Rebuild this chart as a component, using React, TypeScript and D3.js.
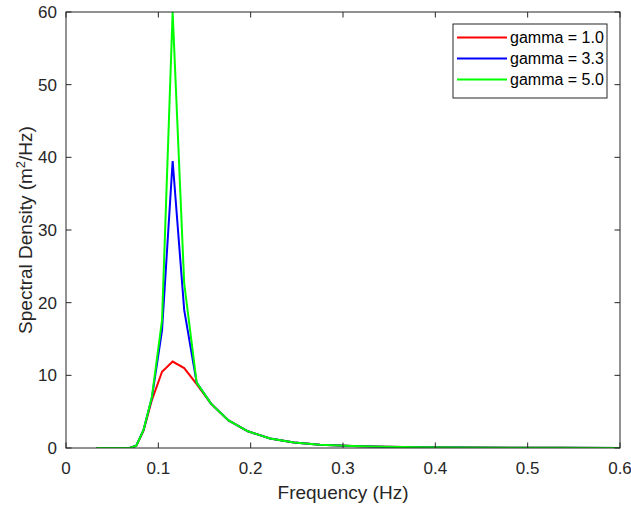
import React from "react";
import * as d3 from "d3";

const freq = [0.033, 0.037, 0.041, 0.046, 0.051, 0.056, 0.062, 0.069, 0.076, 0.084, 0.093, 0.104, 0.1155, 0.128, 0.1415, 0.157, 0.176, 0.197, 0.221, 0.247, 0.275, 0.31, 0.345, 0.385, 0.43, 0.48, 0.535, 0.6];
const gamma10 = [0, 0, 0, 0, 0, 0, 0, 0, 0.3, 2.4, 6.6, 10.5, 11.9, 11.0, 8.8, 6.1, 3.8, 2.3, 1.3, 0.75, 0.45, 0.27, 0.16, 0.1, 0.06, 0.04, 0.02, 0.01];
const gamma33 = [0, 0, 0, 0, 0, 0, 0, 0, 0.3, 2.5, 6.9, 16.2, 39.5, 19.0, 9.0, 6.1, 3.8, 2.3, 1.3, 0.75, 0.45, 0.27, 0.16, 0.1, 0.06, 0.04, 0.02, 0.01];
const gamma50 = [0, 0, 0, 0, 0, 0, 0, 0, 0.3, 2.5, 7.0, 17.6, 60.0, 22.7, 9.0, 6.1, 3.8, 2.3, 1.3, 0.75, 0.45, 0.27, 0.16, 0.1, 0.06, 0.04, 0.02, 0.01];
const seriesNames = ["gamma = 1.0", "gamma = 3.3", "gamma = 5.0"];
const seriesColors = ["#ff0000", "#0000ff", "#00ff00"];
const xTicks = [0, 0.1, 0.2, 0.3, 0.4, 0.5, 0.6];
const yTicks = [0, 10, 20, 30, 40, 50, 60];

const W = 631, H = 506;
const left = 66, right = 620, top = 12, bottom = 448;
const axisColor = "#262626";
const font = "'Liberation Sans', Arial, Helvetica, sans-serif";

export default function App() {
  const x = d3.scaleLinear().domain([0, 0.6]).range([left, right]);
  const y = d3.scaleLinear().domain([0, 60]).range([bottom, top]);
  const line = d3.line<number>().x((_, i) => x(freq[i])).y((d) => y(d));
  const series = [gamma10, gamma33, gamma50];
  const tl = 5.5;
  return (
    <svg width={W} height={H} style={{ position: "absolute", left: 0, top: 0, background: "#fff" }} fontFamily={font}>
      <defs>
        <clipPath id="plotclip">
          <rect x={left} y={top} width={right - left} height={bottom - top} />
        </clipPath>
      </defs>
      <rect x={0} y={0} width={W} height={H} fill="#fff" />
      <g clipPath="url(#plotclip)">
        {series.map((s, i) => (
          <path key={i} d={line(s) || ""} fill="none" stroke={seriesColors[i]} strokeWidth={2} strokeLinejoin="miter" />
        ))}
      </g>
      <rect x={left} y={top} width={right - left} height={bottom - top} fill="none" stroke={axisColor} strokeWidth={1} />
      {xTicks.map((t) => (
        <g key={"x" + t}>
          <line x1={x(t)} x2={x(t)} y1={bottom} y2={bottom - tl} stroke={axisColor} />
          <line x1={x(t)} x2={x(t)} y1={top} y2={top + tl} stroke={axisColor} />
          <text x={x(t)} y={474} textAnchor="middle" fontSize={17} fill={axisColor}>{String(t)}</text>
        </g>
      ))}
      {yTicks.map((t) => (
        <g key={"y" + t}>
          <line x1={left} x2={left + tl} y1={y(t)} y2={y(t)} stroke={axisColor} />
          <line x1={right} x2={right - tl} y1={y(t)} y2={y(t)} stroke={axisColor} />
          <text x={57} y={y(t) + 6} textAnchor="end" fontSize={17} fill={axisColor}>{String(t)}</text>
        </g>
      ))}
      <text x={(left + right) / 2} y={499} textAnchor="middle" fontSize={19} fill={axisColor}>Frequency (Hz)</text>
      <text transform={`translate(32, ${(top + bottom) / 2}) rotate(-90)`} textAnchor="middle" fontSize={19} fill={axisColor}>
        Spectral Density (m<tspan dy={-7} fontSize={13}>2</tspan><tspan dy={7}>/Hz)</tspan>
      </text>
      <g>
        <rect x={453} y={24} width={154} height={74} fill="#fff" stroke={axisColor} strokeWidth={1} />
        {seriesNames.map((n, i) => (
          <g key={n}>
            <line x1={457} x2={507} y1={37.5 + i * 21} y2={37.5 + i * 21} stroke={seriesColors[i]} strokeWidth={2} />
            <text x={510} y={37.5 + i * 21 + 5.5} fontSize={16} fill="#000">{n}</text>
          </g>
        ))}
      </g>
    </svg>
  );
}
